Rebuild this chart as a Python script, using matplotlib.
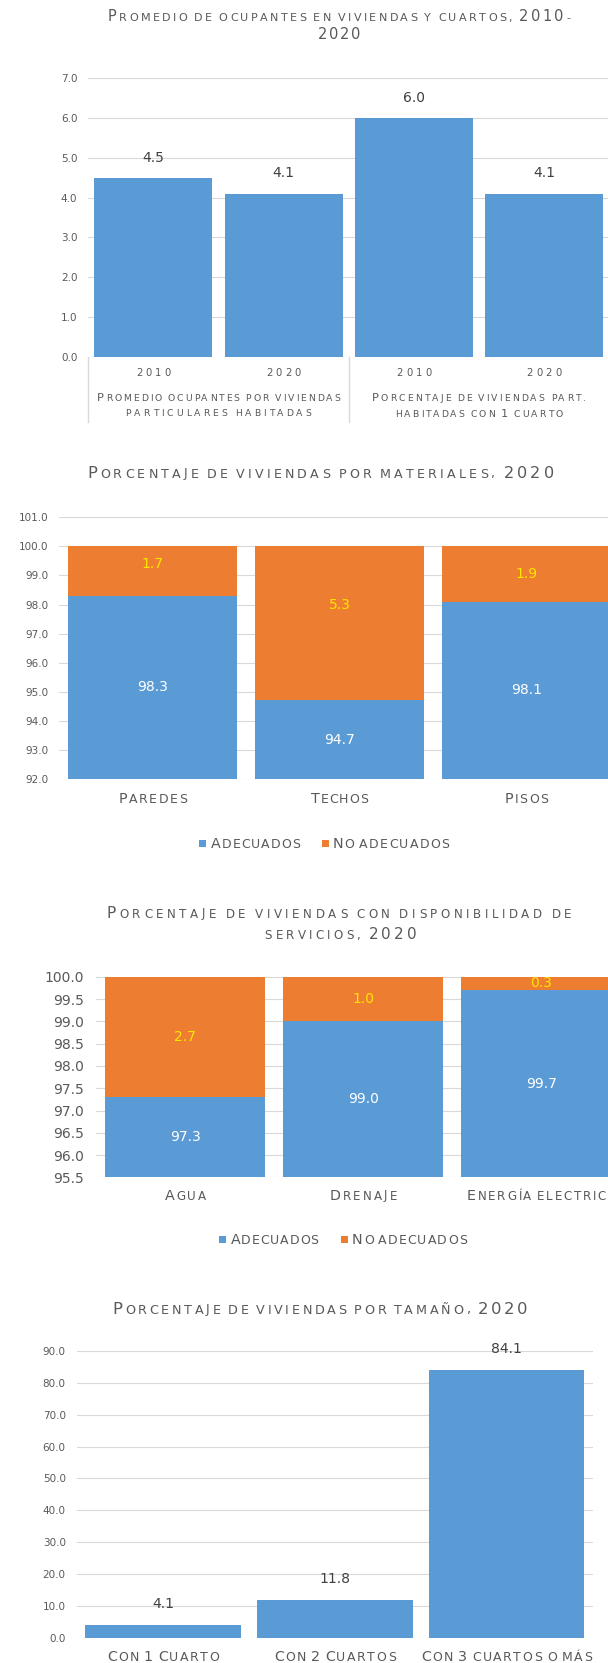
import matplotlib
matplotlib.use("Agg")
import matplotlib.pyplot as plt
import numpy as np
from matplotlib.offsetbox import TextArea, HPacker, AnnotationBbox
from matplotlib.font_manager import FontProperties
from matplotlib.patches import Rectangle
from matplotlib.lines import Line2D

# ---------------------------------------------------------------- data
occ_years = ["2010", "2020", "2010", "2020"]
occ_groups = [["Promedio ocupantes por viviendas", "particulares habitadas"],
              ["Porcentaje de viviendas part.", "habitadas con 1 cuarto"]]
occ_values = [4.5, 4.1, 6.0, 4.1]

mat_categories = ["Paredes", "Techos", "Pisos"]
mat_adequate = [98.3, 94.7, 98.1]
mat_inadequate = [1.7, 5.3, 1.9]

srv_categories = ["Agua", "Drenaje", "Energía electrica"]
srv_adequate = [97.3, 99.0, 99.7]
srv_inadequate = [2.7, 1.0, 0.3]

size_categories = ["Con 1 Cuarto", "Con 2 Cuartos", "Con 3 cuartos o más"]
size_values = [4.1, 11.8, 84.1]

legend_labels = ["Adecuados", "No adecuados"]

titles = {
    "occ": ["Promedio de ocupantes en viviendas y cuartos, 2010-", "2020"],
    "mat": ["Porcentaje de viviendas por materiales, 2020"],
    "srv": ["Porcentaje de viviendas con disponibilidad de", "servicios, 2020"],
    "size": ["Porcentaje de viviendas por tamaño, 2020"],
}

# ---------------------------------------------------------------- style
BLUE = "#5B9BD5"
ORANGE = "#ED7D31"
YELLOW = "#FFE600"
GREY = "#595959"
DARK = "#404040"
GRID = "#D9D9D9"
FONT = "DejaVu Sans"
PX = 0.72  # points per pixel at 100 dpi

W, H = 608, 1663
plt.rcParams["font.family"] = [FONT]
fig = plt.figure(figsize=(W / 100, H / 100), dpi=100)
renderer = fig.canvas.get_renderer()


def axes_px(left, top, right, bottom):
    return fig.add_axes([left / W, 1 - bottom / H, (right - left) / W, (bottom - top) / H])


def glyph_width(ch, size):
    w, _, _ = renderer.get_text_width_height_descent(ch, FontProperties(family=FONT, size=size), False)
    return w


def small_caps(x, y, s, big, small, width, digit=None, ha="center", color=GREY,
               word_ratio=2.0, word_extra=2.0):
    """Draw s in small capitals spread over `width` pixels at figure pixel (x, y from top)."""
    if digit is None:
        digit = big
    words = []
    for w in s.split(" "):
        chars = []
        for ch in w:
            if ch.isdigit():
                size = digit
            elif ch.isalpha() and ch.isupper():
                size = big
            else:
                size = small
            chars.append((ch.upper(), size))
        words.append(chars)
    ink = sum(glyph_width(c, sz) for wd in words for c, sz in wd)
    n_intra = sum(len(wd) - 1 for wd in words)
    n_word = len(words) - 1
    track = (width - ink - n_word * word_extra) / max(n_intra + n_word * word_ratio, 1)
    track = max(track, 0.2)
    gap = word_ratio * track + word_extra
    packs = []
    for wd in words:
        areas = [TextArea(c, textprops=dict(size=sz, color=color, family=FONT)) for c, sz in wd]
        packs.append(HPacker(children=areas, align="baseline", pad=0, sep=track * PX))
    box = HPacker(children=packs, align="baseline", pad=0, sep=gap * PX)
    align = {"center": (0.5, 0.5), "left": (0.0, 0.5)}[ha]
    ab = AnnotationBbox(box, (x, H - y), xycoords="figure pixels", frameon=False, pad=0,
                        box_alignment=align, annotation_clip=False)
    fig.add_artist(ab)
    return ab


def style_axes(ax, yticks, label_size, pad_px):
    for sp in ax.spines.values():
        sp.set_visible(False)
    ax.set_yticks(yticks)
    ax.set_yticklabels([f"{t:.1f}" for t in yticks])
    ax.tick_params(axis="y", length=0, pad=pad_px * PX, labelsize=label_size, labelcolor=GREY)
    ax.tick_params(axis="x", length=0, labelbottom=False)
    ax.yaxis.grid(True, color=GRID, lw=0.8)
    ax.set_axisbelow(True)
    ax.patch.set_alpha(0)


def xpix(ax, xv):
    return ax.transData.transform((xv, 0))[0]


def legend_row(y, items):
    for sq_x, txt_x, txt_w, color, label in items:
        fig.add_artist(Rectangle((sq_x / W, (H - y - 3.5) / H), 7 / W, 7 / H,
                                 transform=fig.transFigure, facecolor=color, edgecolor="none"))
        small_caps(txt_x, y + 1.2, label, 10.3, 9.0, txt_w, ha="left")


# ============================================ 1. occupants per dwelling / room
ax1 = axes_px(88.3, 78, 609.1, 357)
x1 = np.arange(len(occ_values))
ax1.bar(x1, occ_values, width=0.906, color=BLUE)
ax1.set_xlim(-0.5, len(occ_values) - 0.5)
ax1.set_ylim(0, 7)
style_axes(ax1, np.arange(0, 7.5, 1.0), 7.5, 11)
for xi, v in zip(x1, occ_values):
    ax1.annotate(f"{v:.1f}", (xi, v), xytext=(0, 14.5), textcoords="offset points",
                 ha="center", va="center", color=DARK, size=10)

small_caps(339, 16.4, titles["occ"][0], 10.5, 8.0, 462)
small_caps(339, 34.7, titles["occ"][1], 10.5, 8.0, 42.6)
for xi, yr in zip(x1, occ_years):
    small_caps(xpix(ax1, xi), 373, yr, 7.2, 7.2, 35)
group_widths = [[243, 186], [214, 167]]
for g, lines in enumerate(occ_groups):
    gx = xpix(ax1, 2 * g + 0.5)
    for j, line in enumerate(lines):
        small_caps(gx, 398 + 16 * j, line, 8.2, 6.7, group_widths[g][j])
for sep_x in (-0.5, 1.5, 3.5):
    px = xpix(ax1, sep_x)
    fig.add_artist(Line2D([px / W, px / W], [(H - 357) / H, (H - 422) / H],
                          transform=fig.transFigure, color=GRID, lw=1.0))

# ============================================ 2. materials
ax2 = axes_px(59.3, 517.3, 619.7, 779)
x2 = np.arange(len(mat_categories))
ax2.bar(x2, mat_adequate, width=0.903, color=BLUE)
ax2.bar(x2, mat_inadequate, bottom=mat_adequate, width=0.903, color=ORANGE)
ax2.set_xlim(-0.5, len(mat_categories) - 0.5)
ax2.set_ylim(92, 101)
style_axes(ax2, np.arange(92, 101.5, 1.0), 7.5, 11)
ymin2 = ax2.get_ylim()[0]
orange_label_lift_pt = [5, 13, 0]
for xi, a, n, lift in zip(x2, mat_adequate, mat_inadequate, orange_label_lift_pt):
    ax2.text(xi, (ymin2 + a) / 2, f"{a:.1f}", ha="center", va="center", color="white", size=10)
    ax2.annotate(f"{n:.1f}", (xi, a + n / 2), xytext=(0, lift), textcoords="offset points",
                 ha="center", va="center", color=YELLOW, size=10)

small_caps(320.5, 473, titles["mat"][0], 11.6, 9.1, 467)
for xi, c, w in zip(x2, mat_categories, [69, 57, 44]):
    small_caps(xpix(ax2, xi), 799, c, 10.3, 9.0, w)
legend_row(843.3, [(199, 211, 89, BLUE, legend_labels[0]),
                   (322, 332.6, 117, ORANGE, legend_labels[1])])

# ============================================ 3. services
ax3 = axes_px(96, 976.7, 630.6, 1177.4)
x3 = np.arange(len(srv_categories))
ax3.bar(x3, srv_adequate, width=0.9, color=BLUE)
ax3.bar(x3, srv_inadequate, bottom=srv_adequate, width=0.9, color=ORANGE)
ax3.set_xlim(-0.5, len(srv_categories) - 0.5)
ax3.set_ylim(95.5, 100)
style_axes(ax3, np.arange(95.5, 100.25, 0.5), 10, 12.5)
ymin3 = ax3.get_ylim()[0]
for xi, a, n in zip(x3, srv_adequate, srv_inadequate):
    ax3.text(xi, (ymin3 + a) / 2, f"{a:.1f}", ha="center", va="center", color="white", size=10)
    ax3.text(xi, a + n / 2, f"{n:.1f}", ha="center", va="center", color=YELLOW, size=10)

small_caps(339, 913, titles["srv"][0], 11.0, 8.6, 465)
small_caps(340.7, 934.7, titles["srv"][1], 11.0, 8.6, 152)
for xi, c, w in zip(x3, srv_categories, [41, 67, 149]):
    small_caps(xpix(ax3, xi), 1195.5, c, 10.3, 8.6, w)
legend_row(1239.3, [(219, 230.6, 88, BLUE, legend_labels[0]),
                    (341, 352, 115, ORANGE, legend_labels[1])])

# ============================================ 4. dwelling size
ax4 = axes_px(77.1, 1351, 592.5, 1637.7)
x4 = np.arange(len(size_categories))
ax4.bar(x4, size_values, width=0.905, color=BLUE)
ax4.set_xlim(-0.5, len(size_categories) - 0.5)
ax4.set_ylim(0, 90)
style_axes(ax4, np.arange(0, 95, 10.0), 7.5, 11.4)
for xi, v in zip(x4, size_values):
    ax4.annotate(f"{v:.1f}", (xi, v), xytext=(0, 15), textcoords="offset points",
                 ha="center", va="center", color=DARK, size=10)

small_caps(320, 1309, titles["size"][0], 11.8, 9.2, 415)
for xi, c, w in zip(x4, size_categories, [112, 122, 171]):
    small_caps(xpix(ax4, xi), 1657.3, c, 10.3, 9.0, w)

fig.savefig("out.png", dpi=100)
